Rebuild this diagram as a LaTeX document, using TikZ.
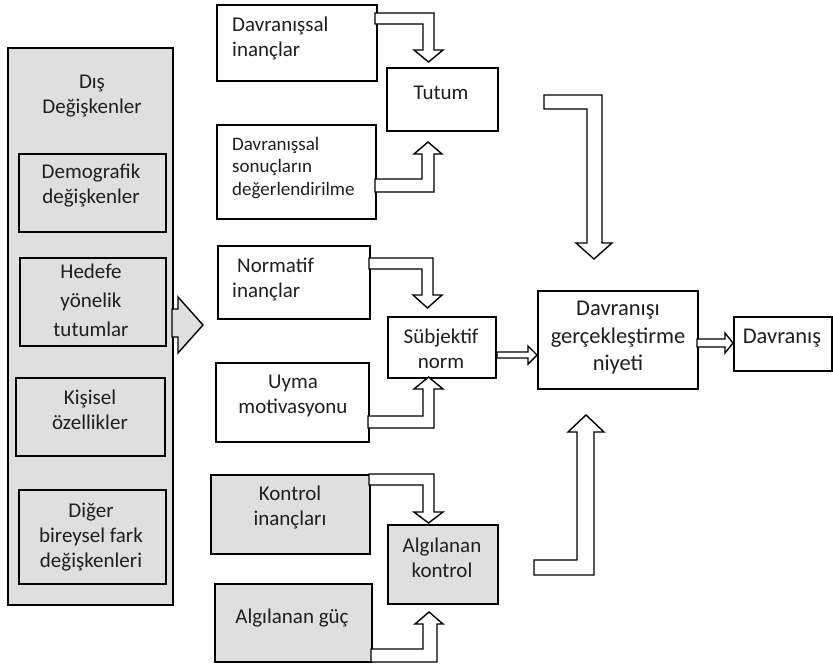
\documentclass[tikz,border=0pt]{standalone}
\usepackage{fontspec}
\setmainfont{Carlito}
\tikzset{
  box/.style={draw=black, line width=1.8pt, fill=white, inner sep=0pt, anchor=north west},
  gbox/.style={box, fill=gray!25},
  txt/.style={align=center, font=\fontsize{21}{25}\selectfont, text=black!88, inner sep=0pt},
  txtl/.style={txt, align=left},
  bigtxt/.style={txt, font=\fontsize{22.5}{27.5}\selectfont},
  barrow/.style={draw=black, line width=1.4pt, fill=white, line join=miter},
  garrow/.style={barrow, fill=gray!25},
}
\begin{document}
\begin{tikzpicture}[x=1pt, y=-1pt]
\useasboundingbox (0,0) rectangle (833,667);
% outer box
\node[gbox, minimum width=165pt, minimum height=557pt] (ext) at (7,47) {};
\node[gbox, minimum width=147pt, minimum height=78pt] (demo) at (18,153) {};
\node[gbox, minimum width=146pt, minimum height=88pt] (hedefe) at (19,257) {};
\node[gbox, minimum width=149pt, minimum height=78pt] (kisisel) at (15,377) {};
\node[gbox, minimum width=147pt, minimum height=94pt] (diger) at (18,489) {};
% middle column
\node[box, minimum width=160pt, minimum height=76pt] (dinanc) at (216,4) {};
\node[box, minimum width=159pt, minimum height=94pt] (dsonuc) at (216,124) {};
\node[box, minimum width=111pt, minimum height=63pt] (tutum) at (386,67) {};
\node[box, minimum width=152pt, minimum height=73pt] (ninanc) at (217,245) {};
\node[box, minimum width=153pt, minimum height=79pt] (uyma) at (215,362) {};
\node[box, minimum width=108pt, minimum height=61pt] (subj) at (387,316) {};
\node[gbox, minimum width=159pt, minimum height=79pt] (kontrol) at (210,474) {};
\node[gbox, minimum width=157pt, minimum height=78pt] (guc) at (214,583) {};
\node[gbox, minimum width=110pt, minimum height=79pt] (akontrol) at (387,524) {};
\node[box, minimum width=160pt, minimum height=98pt] (niyet) at (537,290) {};
\node[box, minimum width=98pt, minimum height=54pt] (davranis) at (733,316) {};
% texts
\node[txt] (t-ext) at (92,96) {Dış\\Değişkenler};
\node[txt] (t-demo) at (91,186) {Demografik\\değişkenler};
\node[txt, font=\fontsize{21}{29}\selectfont] (t-hedefe) at (91,300) {Hedefe\\yönelik\\tutumlar};
\node[txt] (t-kisisel) at (90,410) {Kişisel\\özellikler};
\node[txt] (t-diger) at (91,537) {Diğer\\bireysel fark\\değişkenleri};
\node[txtl, anchor=west] (t-dinanc) at (232,38) {Davranışsal\\inançlar};
\node[txtl, anchor=west, font=\fontsize{19}{22.5}\selectfont] (t-dsonuc) at (232,168) {Davranışsal\\sonuçların\\değerlendirilme};
\node[txt] (t-tutum) at (441,93) {Tutum};
\node[txtl, anchor=west] (t-ninanc) at (232,279) {\hspace{5pt}Normatif\\inançlar};
\node[txt] (t-uyma) at (293,396) {Uyma\\motivasyonu};
\node[txt] (t-subj) at (441,349) {Sübjektif\\norm};
\node[bigtxt] (t-niyet) at (618,338) {Davranışı\\gerçekleştirme\\niyeti};
\node[bigtxt] (t-davranis) at (782,338) {Davranış};
\node[txt] (t-kontrol) at (290,507) {Kontrol\\inançları};
\node[txt] (t-guc) at (292,618) {Algılanan güç};
\node[txt] (t-akontrol) at (442,558) {Algılanan\\kontrol};
% block arrows
\draw[garrow] (172,309) -- (178,309) -- (178,297) -- (203,325) -- (178,353) -- (178,337) -- (172,337) -- cycle;
\draw[barrow] (375,13) -- (434,13) -- (434,50) -- (443,50) -- (428.5,62) -- (414,50) -- (423,50) -- (423,24) -- (375,24) -- cycle;
\draw[barrow] (375,192) -- (434,192) -- (434,154) -- (442,154) -- (428,142) -- (414,154) -- (422,154) -- (422,179) -- (375,179) -- cycle;
\draw[barrow] (369,258) -- (433,258) -- (433,295) -- (442,295) -- (427.5,308) -- (413,295) -- (422,295) -- (422,269) -- (369,269) -- cycle;
\draw[barrow] (368,428) -- (434,428) -- (434,389) -- (443,389) -- (428.5,377) -- (414,389) -- (423,389) -- (423,416) -- (368,416) -- cycle;
\draw[barrow] (369,474) -- (434,474) -- (434,512) -- (443,512) -- (428.5,523) -- (414,512) -- (423,512) -- (423,485) -- (369,485) -- cycle;
\draw[barrow] (371,662) -- (437,662) -- (437,624) -- (443,624) -- (429,612) -- (415,624) -- (423,624) -- (423,649) -- (371,649) -- cycle;
\draw[barrow] (544,95) -- (602,95) -- (602,243) -- (612,243) -- (594,259) -- (576,243) -- (587,243) -- (587,109) -- (544,109) -- cycle;
\draw[barrow] (534,575) -- (594,575) -- (594,432) -- (604,432) -- (586,415) -- (568,432) -- (577,432) -- (577,560) -- (534,560) -- cycle;
\draw[barrow] (497,352) -- (528,352) -- (528,346) -- (537,355) -- (528,364) -- (528,358) -- (497,358) -- cycle;
\draw[barrow] (697,339) -- (725,339) -- (725,333) -- (733,343) -- (725,353) -- (725,347) -- (697,347) -- cycle;
\end{tikzpicture}
\end{document}
